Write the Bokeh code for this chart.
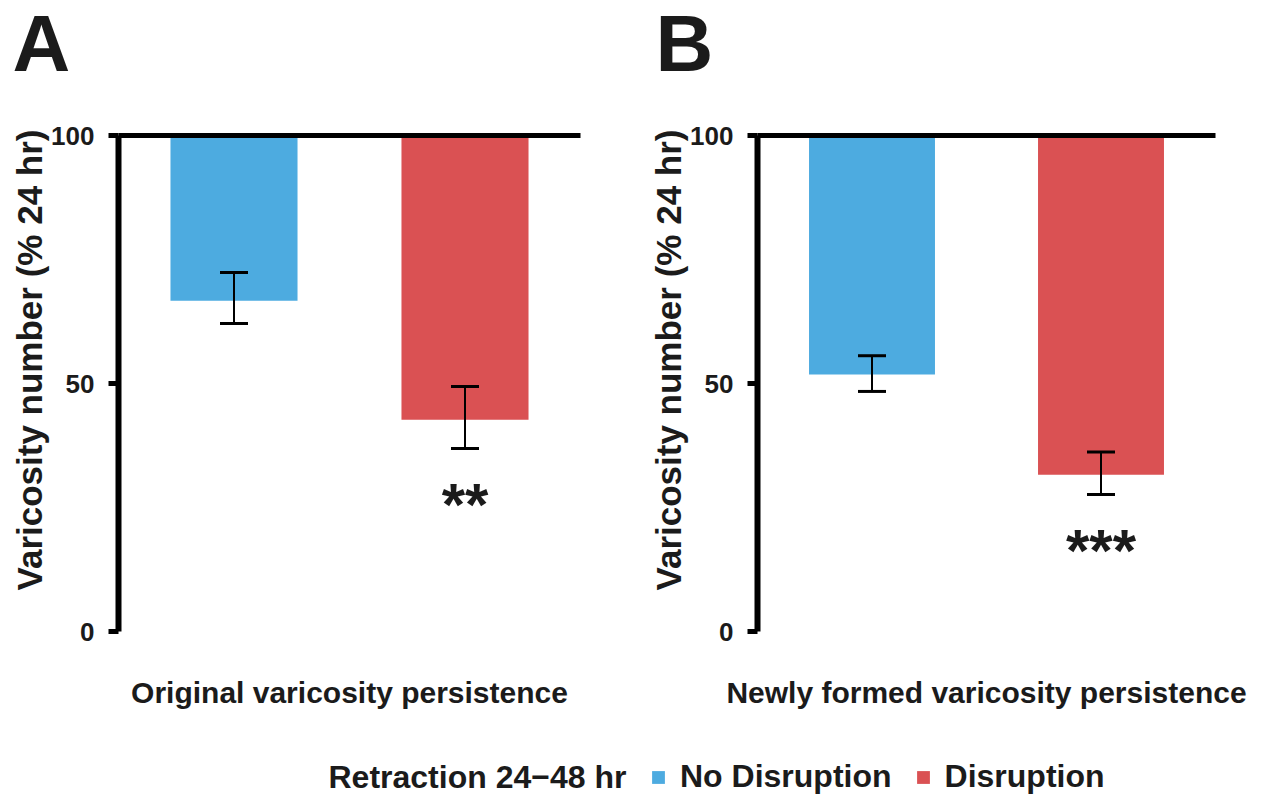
from bokeh.plotting import figure
from bokeh.models import (ColumnDataSource, Range1d, FixedTicker, Whisker, LinearAxis,
                          TeeHead, Label, Legend, LegendItem, Title)
from bokeh.layouts import column, row
from bokeh.embed import file_html
from bokeh.resources import INLINE
from bokeh.core.properties import value

# ---------------- data ----------------
categories = ["No Disruption", "Disruption"]
bar_colors = ["#4DABE0", "#DA5153"]
y_ticks = [0, 50, 100]
baseline = 100  # bars hang down from the 24 hr level (100 %)

panel_letters = ["A", "B"]
panel_xlabels = ["Original varicosity persistence", "Newly formed varicosity persistence"]
y_label = "Varicosity number (% 24 hr)"

a_mean = [66.7, 42.7]
a_upper = [72.4, 49.4]
a_lower = [62.1, 36.9]
a_sig = ["", "**"]

b_mean = [51.8, 31.6]
b_upper = [55.6, 36.2]
b_lower = [48.4, 27.6]
b_sig = ["", "***"]

legend_title = "Retraction 24\u221248 hr"

FONT = "Liberation Sans"
TXT = "#1b1b1b"
PW, PH = 637, 655     # panel size
HEAD_H, LEG_H = 80, 72


def make_panel(xlabel, mean, upper, lower, sig, borders):
    left, right, top, bottom = borders
    n = len(categories)
    slot = [i + 0.5 for i in range(n)]  # each category occupies one unit slot
    src = ColumnDataSource(dict(x=slot, cat=categories, mean=mean, top=[baseline] * n,
                                upper=upper, lower=lower, color=bar_colors))
    keep = [i for i, s in enumerate(sig) if s]
    sig_src = ColumnDataSource(dict(x=[slot[i] for i in keep],
                                    lower=[lower[i] for i in keep],
                                    sig=[sig[i] for i in keep]))
    p = figure(width=PW, height=PH, x_range=Range1d(0, n), y_range=Range1d(0, 100),
               x_axis_location="above", output_backend="svg", toolbar_location=None,
               min_border_left=left, min_border_right=right, min_border_top=top,
               min_border_bottom=bottom)
    p.outline_line_color = None
    p.grid.visible = False
    p.background_fill_color = "white"
    p.border_fill_color = "white"

    p.vbar(x="x", top="top", bottom="mean", width=0.55, color="color", line_color=None,
           source=src)

    wh = Whisker(base="x", upper="upper", lower="lower", source=src, dimension="height",
                 line_width=2, line_color="black", level="annotation",
                 upper_head=TeeHead(size=28, line_width=3, line_color="black"),
                 lower_head=TeeHead(size=28, line_width=3, line_color="black"))
    p.add_layout(wh)

    p.text(x="x", y="lower", text="sig", source=sig_src, text_align="center",
           text_baseline="alphabetic", y_offset=56, text_font=value(FONT),
           text_font_size="60px", text_font_style="bold", text_color=TXT)

    # top axis: thick line at the 100 % level, no ticks
    xa = p.xaxis[0]
    xa.ticker = FixedTicker(ticks=[])
    xa.axis_line_width = 5
    xa.axis_line_color = "black"
    xa.major_tick_out = 0
    xa.major_tick_in = 0
    xa.minor_tick_line_color = None
    xa.major_tick_line_color = None
    xa.major_label_standoff = 0

    # bottom axis: only carries the panel's x label
    xb = LinearAxis(ticker=FixedTicker(ticks=[]), axis_line_color=None,
                    major_tick_line_color=None, minor_tick_line_color=None,
                    major_tick_out=0, major_tick_in=0, major_label_standoff=0,
                    axis_label=xlabel, axis_label_standoff=44,
                    axis_label_text_font=FONT, axis_label_text_font_size="30px",
                    axis_label_text_font_style="bold", axis_label_text_color=TXT)
    p.add_layout(xb, "below")

    ya = p.yaxis[0]
    ya.ticker = FixedTicker(ticks=y_ticks)
    ya.axis_line_width = 6
    ya.axis_line_color = "black"
    ya.major_tick_line_width = 5
    ya.major_tick_line_color = "black"
    ya.major_tick_out = 10
    ya.major_tick_in = 0
    ya.minor_tick_line_color = None
    ya.major_label_standoff = 14
    ya.major_label_text_font = FONT
    ya.major_label_text_font_size = "26px"
    ya.major_label_text_font_style = "bold"
    ya.major_label_text_color = TXT

    yt = Title(text=y_label, align="left", offset=41, standoff=0, text_font=FONT,
               text_font_size="35px", text_font_style="bold", text_color=TXT)
    p.add_layout(yt, "left")
    return p


pA = make_panel(panel_xlabels[0], a_mean, a_upper, a_lower, a_sig, (118, 57, 55, 104))
pB = make_panel(panel_xlabels[1], b_mean, b_upper, b_lower, b_sig, (120, 59, 52, 102))

# ---------------- panel letters strip ----------------
hf = figure(width=1274, height=HEAD_H, x_range=Range1d(0, 1), y_range=Range1d(0, 1),
            x_axis_type=None, y_axis_type=None, output_backend="svg", toolbar_location=None,
            min_border=0)
hf.outline_line_color = None
hf.grid.visible = False
for letter, lx in zip(panel_letters, [12, 655]):
    hf.add_layout(Label(x=lx, y=37, x_units="screen", y_units="screen", text=letter,
                        text_font=FONT, text_font_size="80px", text_font_style="bold",
                        text_color=TXT, text_baseline="middle", text_align="left"))

# ---------------- legend strip ----------------
lf = figure(width=1274, height=LEG_H, x_range=Range1d(0, 1), y_range=Range1d(0, 1),
            x_axis_type=None, y_axis_type=None, output_backend="svg", toolbar_location=None,
            min_border=0)
lf.outline_line_color = None
lf.grid.visible = False
items = []
for cat, col in zip(categories, bar_colors):
    # proxy renderer kept outside the visible range; only its legend icon is shown
    r = lf.vbar(x=[0.5], top=[-1], bottom=[-2], width=0.1, color=col, line_color=None)
    items.append(LegendItem(label=cat, renderers=[r]))
leg = Legend(items=items, orientation="horizontal", location=(650, 12), margin=0, padding=6,
             glyph_width=16, glyph_height=16, label_standoff=14, spacing=23,
             label_text_font=FONT, label_text_font_size="32px", label_text_font_style="bold",
             label_text_color=TXT, border_line_color=None, background_fill_alpha=0)
lf.add_layout(leg, "center")
lf.add_layout(Label(x=328, y=31, x_units="screen", y_units="screen", text=legend_title,
                    text_font=FONT, text_font_size="32px", text_font_style="bold",
                    text_color=TXT, text_baseline="middle", text_align="left"))

layout = column(hf, row(pA, pB), lf)
open("out.html", "w").write(file_html(layout, INLINE))
